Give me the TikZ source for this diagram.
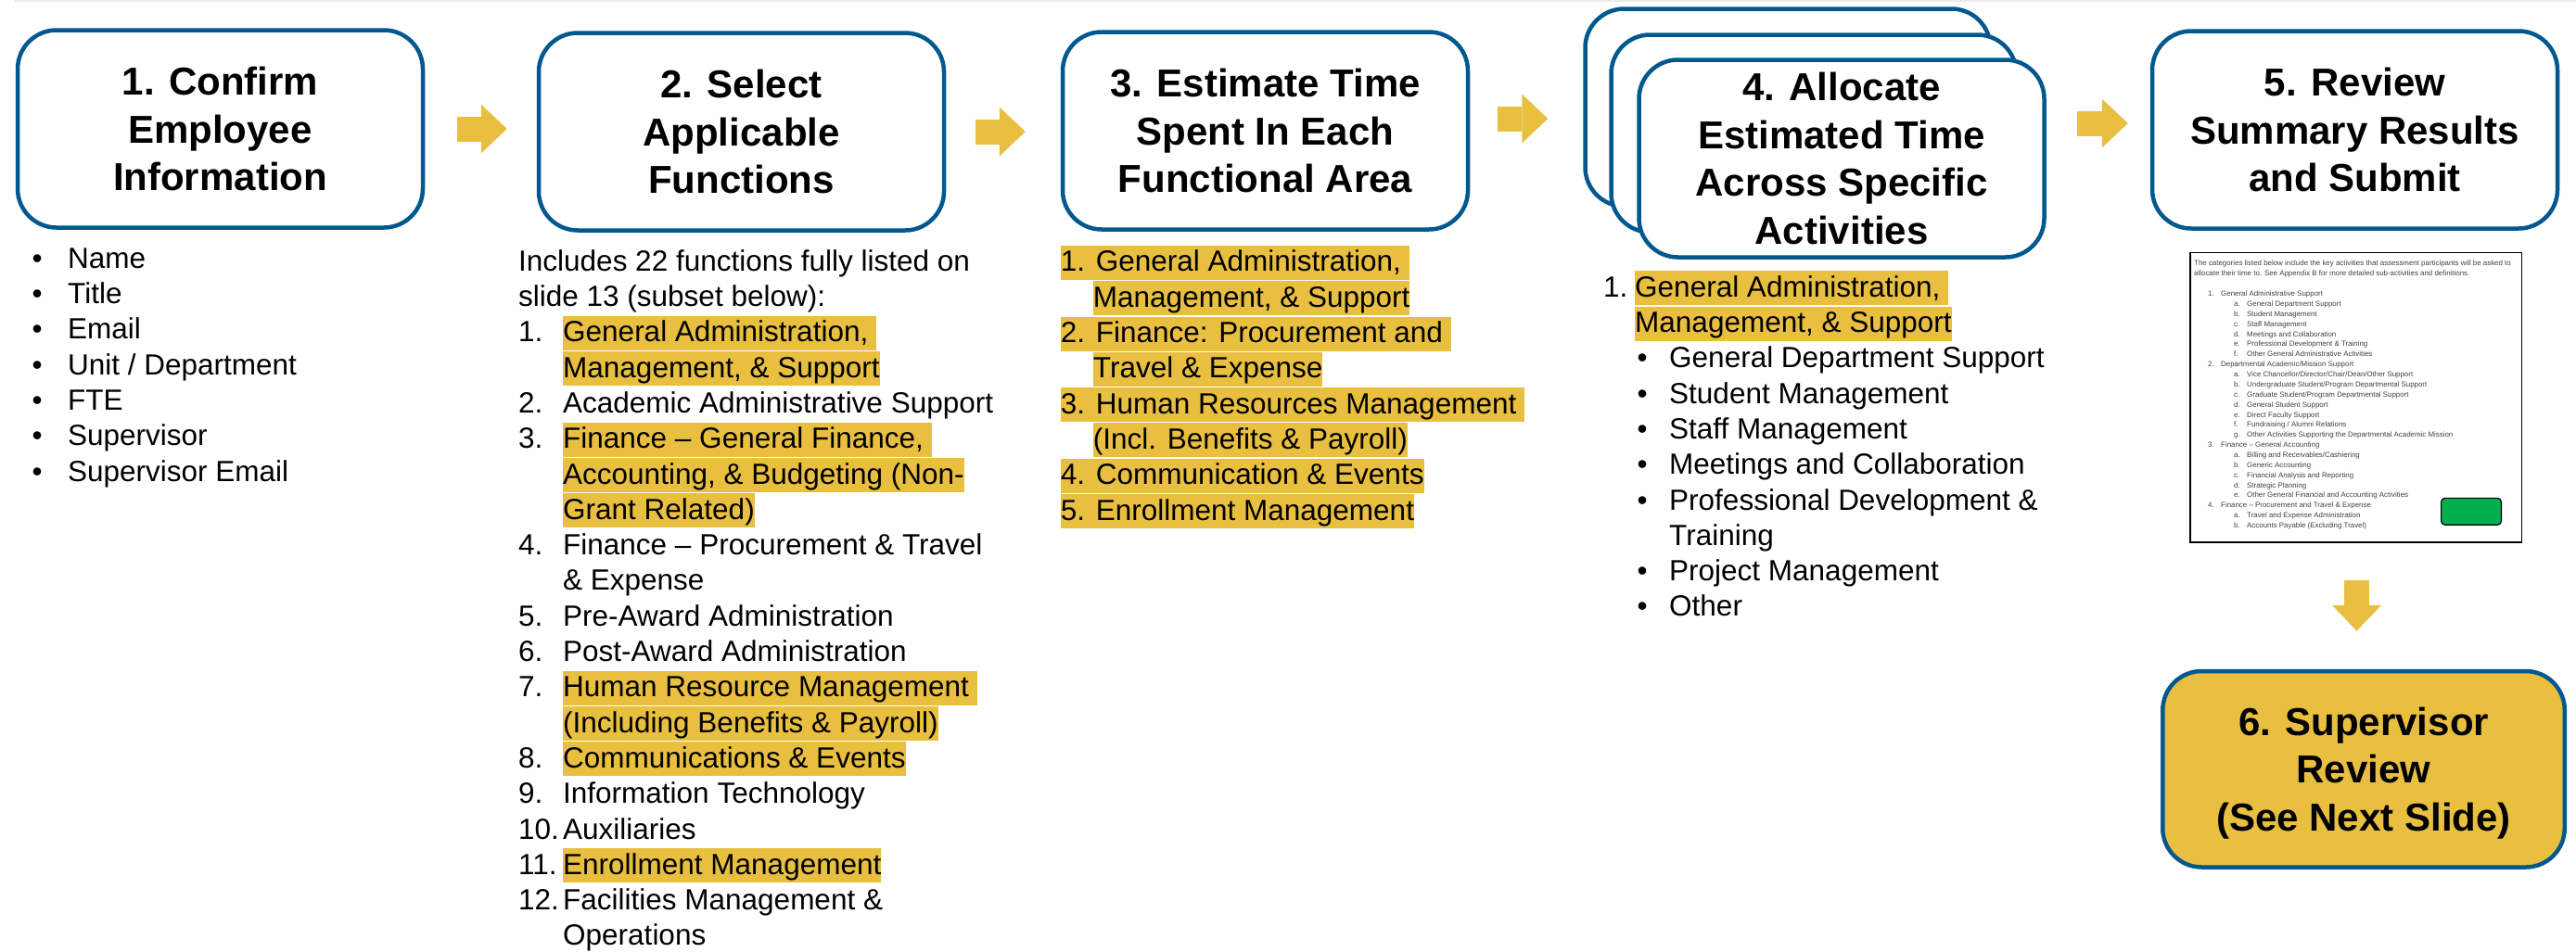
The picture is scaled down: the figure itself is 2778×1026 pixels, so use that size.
\documentclass[tikz,border=0pt]{standalone}
\usepackage{fontspec}
\setmainfont{Liberation Sans}
\usetikzlibrary{positioning,calc,arrows.meta}

\definecolor{boxblue}{RGB}{0,88,143}
\definecolor{hlyellow}{RGB}{233,191,64}
\definecolor{btngreen}{RGB}{0,176,80}

\newcommand{\titlefont}{\fontsize{42}{51.5}\selectfont\bfseries}
\newcommand{\bodyfont}{\fontsize{31.5}{38.3}\selectfont}
\newcommand{\thumbfont}{\fontsize{7.9}{10.87}\selectfont}
\newcommand{\lstrut}{\rule[-9pt]{0pt}{37pt}}
\newcommand{\tstrut}{\rule[-3pt]{0pt}{10.5pt}}
\newcommand{\hlbox}[1]{{\setlength{\fboxsep}{0pt}\colorbox{hlyellow}{\lstrut#1}}}
\newcommand{\itemno}[2]{\makebox[#1][l]{#2}}
\newcommand{\thumbitem}[2]{\hspace*{15pt}\makebox[14pt][l]{#1}#2}
\newcommand{\thumbsub}[2]{\hspace*{43pt}\makebox[14pt][l]{#1}#2}

\begin{document}
\begin{tikzpicture}[x=1pt, y=-1pt,
    stepbox/.style={draw=boxblue, line width=4.5pt, rectangle, rounded corners=42pt, fill=white,
        minimum width=437pt, minimum height=213pt, inner sep=0pt, align=center, text depth=0pt, font=\titlefont},
    listtext/.style={align=left, inner sep=0pt, font=\bodyfont},
    flowarrow/.style={draw=hlyellow, line width=27pt, -{Triangle[length=28pt, width=53pt, line width=0pt, fill=hlyellow]}}]
    \useasboundingbox (0,0) rectangle (2778,1026);
    \draw[black!8, line width=1.5pt] (16,0.75) -- (2778,0.75);

    % steps
    \node[stepbox] (confirm) at (237.5,139) {1. Confirm\\Employee\\Information};
    \node[stepbox] (select) at (799.5,142) {2. Select\\Applicable\\Functions};
    \node[stepbox] (estimate) at (1364.5,141) {3. Estimate Time\\Spent In Each\\Functional Area};
    \node[stepbox] (allocback) at (1928,116) {};
    \node[stepbox] (allocmid) at (1956,144) {};
    \node[stepbox] (allocate) at (1986,171) {4. Allocate\\Estimated Time\\Across Specific\\Activities};
    \node[stepbox] (review) at (2539.5,140) {5. Review\\Summary Results\\and Submit};

    % lists under the steps
    \node[listtext, below right=13.25pt and 17.75pt of confirm.south west] (infolist) {%
        \lstrut\itemno{38.5pt}{\textbullet}Name\\
        \itemno{38.5pt}{\textbullet}Title\\
        \itemno{38.5pt}{\textbullet}Email\\
        \itemno{38.5pt}{\textbullet}Unit / Department\\
        \itemno{38.5pt}{\textbullet}FTE\\
        \itemno{38.5pt}{\textbullet}Supervisor\\
        \itemno{38.5pt}{\textbullet}Supervisor Email};
    \node[listtext, below right=13.25pt and -19.75pt of select.south west] (funclist) {%
        \lstrut Includes 22 functions fully listed on\\
        slide 13 (subset below):\\
        \itemno{48pt}{1.}\hlbox{General Administration,\ }\\
        \itemno{48pt}{}\hlbox{Management, \& Support}\\
        \itemno{48pt}{2.}Academic Administrative Support\\
        \itemno{48pt}{3.}\hlbox{Finance – General Finance,\ }\\
        \itemno{48pt}{}\hlbox{Accounting, \& Budgeting (Non-}\\
        \itemno{48pt}{}\hlbox{Grant Related)}\\
        \itemno{48pt}{4.}Finance – Procurement \& Travel\\
        \itemno{48pt}{}\& Expense\\
        \itemno{48pt}{5.}Pre-Award Administration\\
        \itemno{48pt}{6.}Post-Award Administration\\
        \itemno{48pt}{7.}\hlbox{Human Resource Management\ }\\
        \itemno{48pt}{}\hlbox{(Including Benefits \& Payroll)}\\
        \itemno{48pt}{8.}\hlbox{Communications \& Events}\\
        \itemno{48pt}{9.}Information Technology\\
        \itemno{48pt}{10.}Auxiliaries\\
        \itemno{48pt}{11.}\hlbox{Enrollment Management}\\
        \itemno{48pt}{12.}Facilities Management \&\\
        \itemno{48pt}{}Operations};
    \node[listtext, below right=15pt and 0pt of estimate.south west] (arealist) {%
        \hlbox{1. General Administration,\ }\\
        \hspace*{35pt}\hlbox{Management, \& Support}\\
        \hlbox{2. Finance: Procurement and\ }\\
        \hspace*{35pt}\hlbox{Travel \& Expense}\\
        \hlbox{3. Human Resources Management\ }\\
        \hspace*{35pt}\hlbox{(Incl. Benefits \& Payroll)}\\
        \hlbox{4. Communication \& Events}\\
        \hlbox{5. Enrollment Management}};
    \node[listtext, below right=12.25pt and -36.25pt of allocate.south west] (actlist) {%
        \itemno{34pt}{1.}\hlbox{General Administration,\ }\\
        \hspace*{34pt}\hlbox{Management, \& Support}\\
        \hspace*{36.5pt}\itemno{34.5pt}{\textbullet}General Department Support\\
        \hspace*{36.5pt}\itemno{34.5pt}{\textbullet}Student Management\\
        \hspace*{36.5pt}\itemno{34.5pt}{\textbullet}Staff Management\\
        \hspace*{36.5pt}\itemno{34.5pt}{\textbullet}Meetings and Collaboration\\
        \hspace*{36.5pt}\itemno{34.5pt}{\textbullet}Professional Development \&\\
        \hspace*{71pt}Training\\
        \hspace*{36.5pt}\itemno{34.5pt}{\textbullet}Project Management\\
        \hspace*{36.5pt}\itemno{34.5pt}{\textbullet}Other};

    % summary screenshot
    \node[draw, rectangle, line width=1.5pt, minimum width=357.5pt, minimum height=312.5pt, inner sep=0pt,
        below=23pt of review, xshift=1pt] (thumb) {};
    \node[draw, fill=btngreen, rounded corners=4pt, line width=1.2pt, minimum width=64.8pt, minimum height=28.8pt,
        inner sep=0pt, above left=19pt and 22pt of thumb.south east] (submitbtn) {};
    \node[align=left, inner sep=0pt, font=\thumbfont, text=black!75,
        below right=7.5pt and 5pt of thumb.north west] (thumbtext) {%
        \tstrut The categories listed below include the key activities that assessment participants will be asked to\\
        allocate their time to. See Appendix B for more detailed sub-activities and definitions.\\
        \tstrut\\
        \thumbitem{1.}{General Administrative Support}\\
        \thumbsub{a.}{General Department Support}\\
        \thumbsub{b.}{Student Management}\\
        \thumbsub{c.}{Staff Management}\\
        \thumbsub{d.}{Meetings and Collaboration}\\
        \thumbsub{e.}{Professional Development \& Training}\\
        \thumbsub{f.}{Other General Administrative Activities}\\
        \thumbitem{2.}{Departmental Academic/Mission Support}\\
        \thumbsub{a.}{Vice Chancellor/Director/Chair/Dean/Other Support}\\
        \thumbsub{b.}{Undergraduate Student/Program Departmental Support}\\
        \thumbsub{c.}{Graduate Student/Program Departmental Support}\\
        \thumbsub{d.}{General Student Support}\\
        \thumbsub{e.}{Direct Faculty Support}\\
        \thumbsub{f.}{Fundraising / Alumni Relations}\\
        \thumbsub{g.}{Other Activities Supporting the Departmental Academic Mission}\\
        \thumbitem{3.}{Finance – General Accounting}\\
        \thumbsub{a.}{Billing and Receivables/Cashiering}\\
        \thumbsub{b.}{Generic Accounting}\\
        \thumbsub{c.}{Financial Analysis and Reporting}\\
        \thumbsub{d.}{Strategic Planning}\\
        \thumbsub{e.}{Other General Financial and Accounting Activities}\\
        \thumbitem{4.}{Finance – Procurement and Travel \& Expense}\\
        \thumbsub{a.}{Travel and Expense Administration}\\
        \thumbsub{b.}{Accounts Payable (Excluding Travel)}};

    \node[stepbox, fill=hlyellow, minimum width=433.5pt, minimum height=211.5pt,
        below=136pt of thumb, xshift=8.5pt] (supervisor) {6. Supervisor\\Review\\(See Next Slide)};

    % arrows between steps
    \draw[flowarrow] ([xshift=35pt]confirm.east) -- ([xshift=-32pt,yshift=3pt]select.west);
    \draw[flowarrow] ([xshift=32pt]select.east) -- ([xshift=-38pt,yshift=-1pt]estimate.west);
    \draw[flowarrow] ([xshift=30pt,yshift=13pt]estimate.east) -- ([xshift=-38pt,yshift=-12pt]allocback.west);
    \draw[flowarrow] ([xshift=33pt,yshift=38pt]allocate.east) -- ([xshift=-24pt,yshift=7pt]review.west);
    \draw[flowarrow] ([xshift=1pt,yshift=-40pt]thumb.south) -- ([xshift=-7.5pt,yshift=41pt]supervisor.north);
\end{tikzpicture}
\end{document}
